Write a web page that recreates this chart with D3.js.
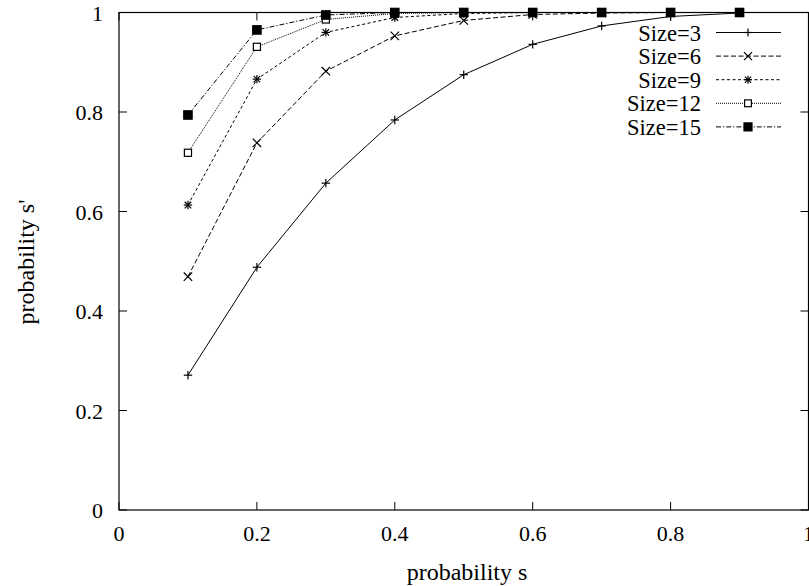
<!DOCTYPE html>
<html>
<head>
<meta charset="utf-8">
<script src="https://cdn.jsdelivr.net/npm/d3@7"></script>
<style>
  body { margin: 0; background: #fff; }
</style>
</head>
<body>
<div class="chart"></div>
<script>
// values
const sValues = [0.1, 0.2, 0.3, 0.4, 0.5, 0.6, 0.7, 0.8, 0.9];
const size3 = [0.271, 0.488, 0.657, 0.784, 0.875, 0.936, 0.973, 0.992, 0.999];
const size6 = [0.469, 0.738, 0.882, 0.953, 0.984, 0.996, 0.999, 1.0, 1.0];
const size9 = [0.613, 0.866, 0.960, 0.990, 0.998, 1.0, 1.0, 1.0, 1.0];
const size12 = [0.718, 0.931, 0.986, 0.998, 1.0, 1.0, 1.0, 1.0, 1.0];
const size15 = [0.794, 0.965, 0.995, 1.0, 1.0, 1.0, 1.0, 1.0, 1.0];
const seriesNames = ['Size=3', 'Size=6', 'Size=9', 'Size=12', 'Size=15'];
const xTicks = [0, 0.2, 0.4, 0.6, 0.8, 1];
const yTicks = [0, 0.2, 0.4, 0.6, 0.8, 1];

const width = 809, height = 586;
const margin = {left: 119, right: 0.5, top: 12.5, bottom: 76};
const serif = "'Liberation Serif', 'Times New Roman', serif";

const x = d3.scaleLinear().domain([0, 1]).range([margin.left, width - margin.right]);
const y = d3.scaleLinear().domain([0, 1]).range([height - margin.bottom, margin.top]);

const svg = d3.select('.chart').append('svg')
  .attr('width', width)
  .attr('height', height)
  .style('display', 'block');

const series = [size3, size6, size9, size12, size15].map((vals, i) => ({
  name: seriesNames[i],
  points: sValues.map((s, j) => [s, vals[j]])
}));

// solid, dashed, short dash, dotted, dash-dot
const dashes = [null, '5,2.5', '3,2.5', '1,1', '5,2,1.2,2'];
const markers = ['plus', 'cross', 'star', 'box', 'boxfill'];

function drawMarker(g, type, cx, cy, r) {
  if (type === 'plus' || type === 'star') {
    g.append('line').attr('x1', cx - r).attr('x2', cx + r).attr('y1', cy).attr('y2', cy);
    g.append('line').attr('x1', cx).attr('x2', cx).attr('y1', cy - r).attr('y2', cy + r);
  }
  if (type === 'cross' || type === 'star') {
    const q = type === 'star' ? r * 0.78 : r;
    g.append('line').attr('x1', cx - q).attr('x2', cx + q).attr('y1', cy - q).attr('y2', cy + q);
    g.append('line').attr('x1', cx - q).attr('x2', cx + q).attr('y1', cy + q).attr('y2', cy - q);
  }
  if (type === 'box') {
    g.append('rect').attr('x', cx - r * 0.85).attr('y', cy - r * 0.85)
      .attr('width', r * 1.7).attr('height', r * 1.7).attr('fill', '#fff');
  }
  if (type === 'boxfill') {
    g.append('rect').attr('x', cx - r).attr('y', cy - r)
      .attr('width', r * 2).attr('height', r * 2).attr('fill', '#000');
  }
}

// frame
svg.append('rect')
  .attr('x', x(0)).attr('y', y(1))
  .attr('width', x(1) - x(0)).attr('height', y(0) - y(1))
  .attr('fill', 'none').attr('stroke', '#000').attr('stroke-width', 1.2);

// ticks (inward, mirrored like gnuplot)
const tickLen = 8;
const ticks = svg.append('g').attr('stroke', '#000').attr('stroke-width', 1);
xTicks.forEach(t => {
  ticks.append('line').attr('x1', x(t)).attr('x2', x(t)).attr('y1', y(0)).attr('y2', y(0) - tickLen);
  ticks.append('line').attr('x1', x(t)).attr('x2', x(t)).attr('y1', y(1)).attr('y2', y(1) + tickLen);
});
yTicks.forEach(t => {
  ticks.append('line').attr('x1', x(0)).attr('x2', x(0) + tickLen).attr('y1', y(t)).attr('y2', y(t));
  ticks.append('line').attr('x1', x(1)).attr('x2', x(1) - tickLen).attr('y1', y(t)).attr('y2', y(t));
});

svg.append('g').selectAll('text')
  .data(xTicks).enter().append('text')
  .attr('x', d => x(d)).attr('y', y(0) + 31)
  .attr('text-anchor', 'middle').attr('font-size', 22).style('font-family', serif)
  .text(d => d3.format('')(d));

svg.append('g').selectAll('text')
  .data(yTicks).enter().append('text')
  .attr('x', x(0) - 16).attr('y', d => y(d) + 8)
  .attr('text-anchor', 'end').attr('font-size', 22).style('font-family', serif)
  .text(d => d3.format('')(d));

svg.append('text')
  .attr('x', 467).attr('y', 580)
  .attr('text-anchor', 'middle').attr('font-size', 24).style('font-family', serif)
  .text('probability s');

svg.append('text')
  .attr('transform', 'translate(34, 262) rotate(-90)')
  .attr('text-anchor', 'middle').attr('font-size', 24).style('font-family', serif)
  .text("probability s'");

// series
const line = d3.line().x(d => x(d[0])).y(d => y(d[1]));
series.forEach((s, i) => {
  svg.append('path')
    .attr('d', line(s.points))
    .attr('fill', 'none')
    .attr('stroke', '#000')
    .attr('stroke-width', 1)
    .attr('stroke-dasharray', dashes[i]);
});
series.forEach((s, i) => {
  const g = svg.append('g').attr('stroke', '#000').attr('stroke-width', 1.2);
  s.points.forEach(p => drawMarker(g, markers[i], x(p[0]), y(p[1]), 4.2));
});

// legend
const legX = 701, legY0 = 32.5, legStep = 23.6;
series.forEach((s, i) => {
  const ly = legY0 + i * legStep;
  svg.append('text')
    .attr('x', legX).attr('y', ly + 8)
    .attr('text-anchor', 'end').attr('font-size', 22.5).style('font-family', serif)
    .text(s.name);
  svg.append('line')
    .attr('x1', 716).attr('x2', 781).attr('y1', ly).attr('y2', ly)
    .attr('stroke', '#000').attr('stroke-width', 1)
    .attr('stroke-dasharray', dashes[i]);
  const g = svg.append('g').attr('stroke', '#000').attr('stroke-width', 1.2);
  drawMarker(g, markers[i], 748, ly, 4);
});
</script>
</body>
</html>
